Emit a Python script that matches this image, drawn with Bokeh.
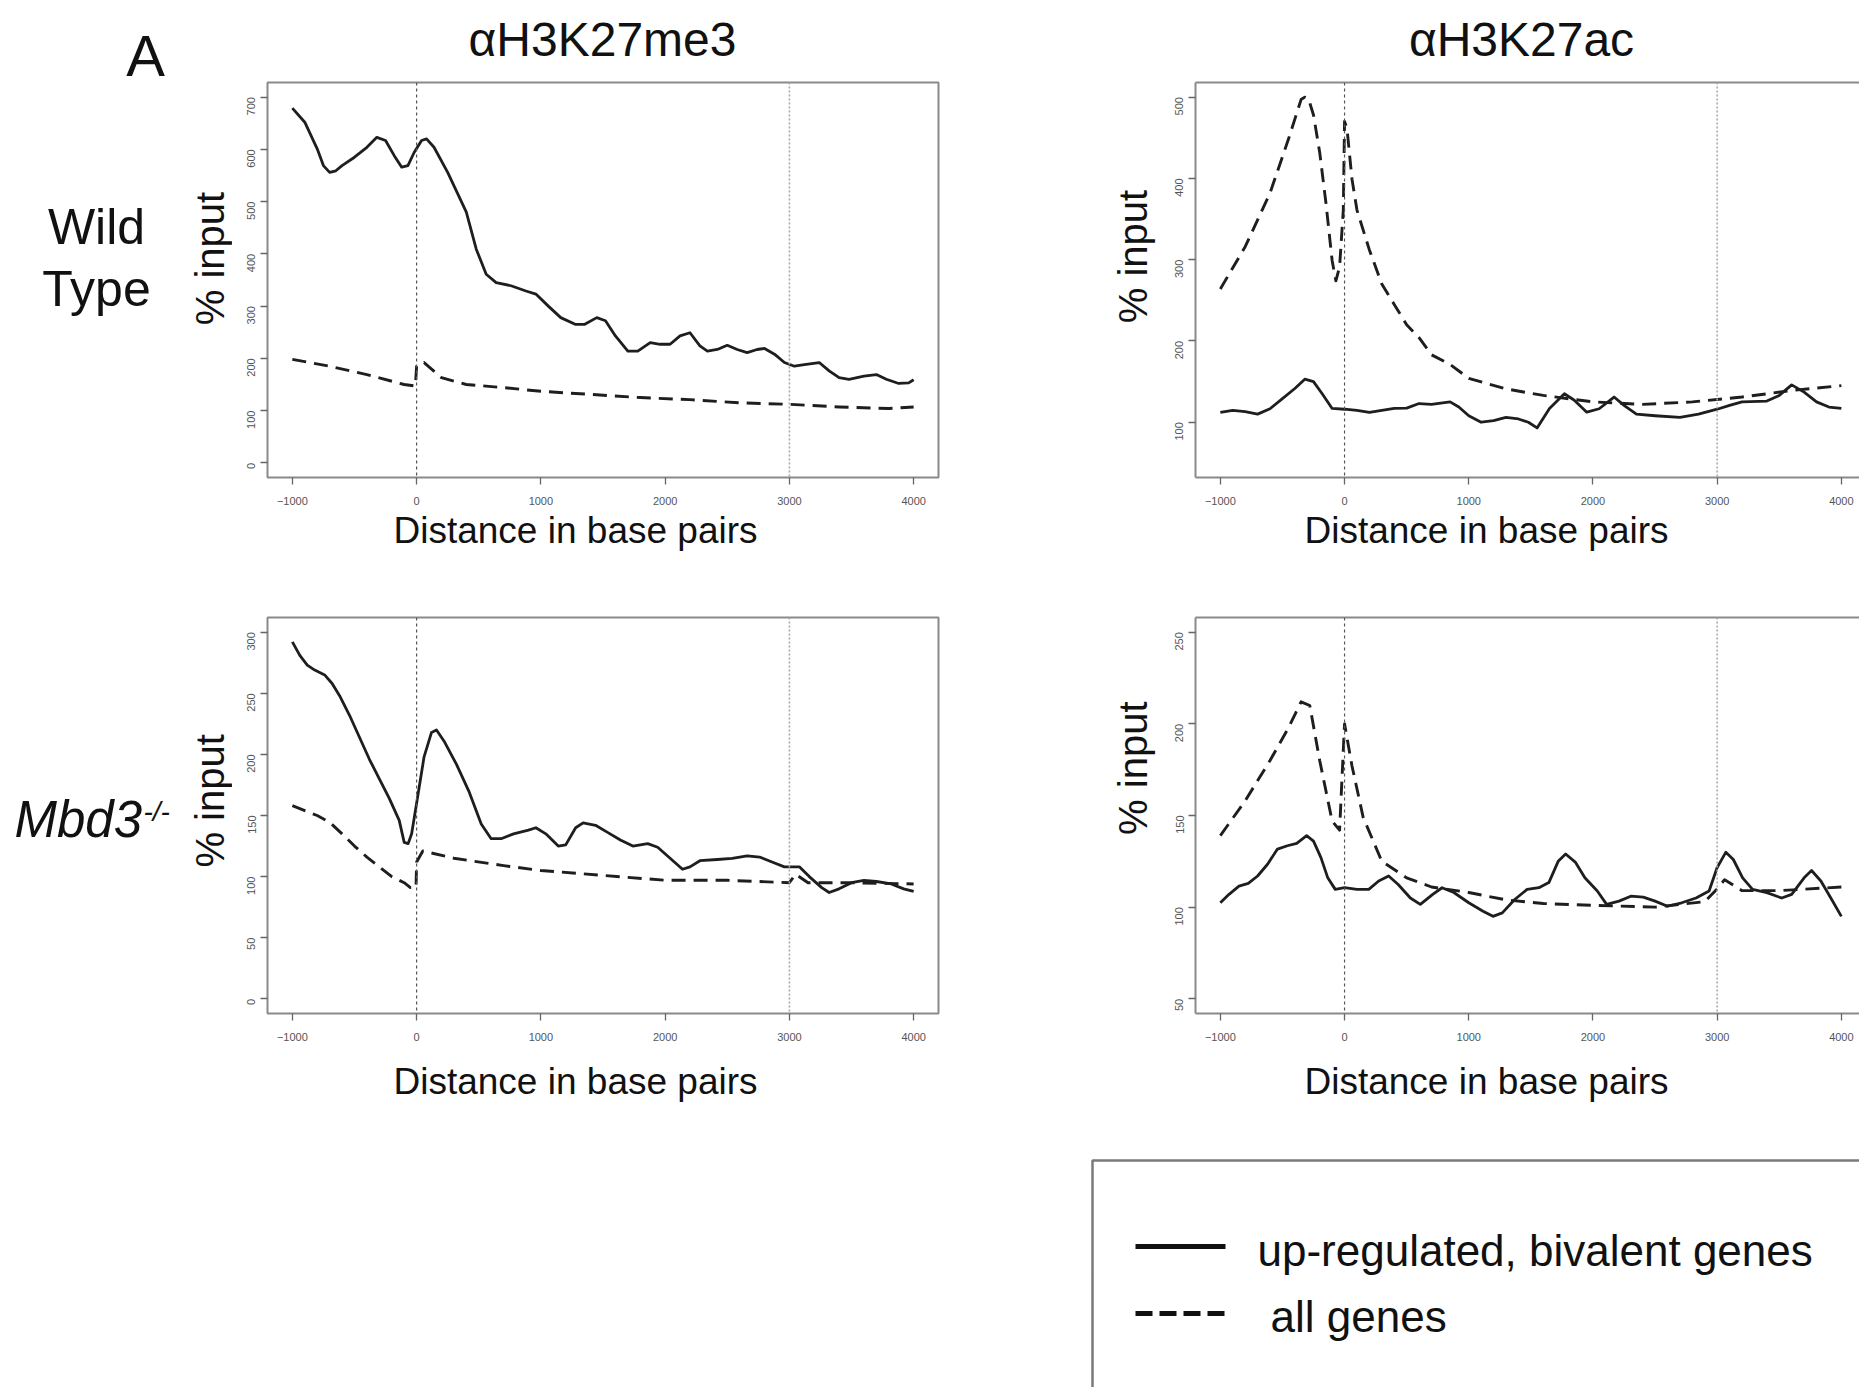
import math
from bokeh.plotting import figure
from bokeh.models import Range1d, FixedTicker, Span, Label, LinearAxis
from bokeh.layouts import column, row
from bokeh.embed import file_html
from bokeh.resources import INLINE

FONT = "Liberation Sans"

# ---------------- data ----------------
x_ticks = [-1000, 0, 1000, 2000, 3000, 4000]

# Wild type, H3K27me3
wt_me3_up_x = [-1000, -900, -800, -750, -700, -650, -600, -500, -400, -320, -250, -180, -120, -70, -20, 40, 80, 140,
               250, 400, 480, 560, 640, 760, 880, 960, 1060, 1160, 1280, 1350, 1450, 1520, 1600, 1700, 1780,
               1880, 1960, 2040, 2120, 2200, 2280, 2340, 2420, 2500, 2580, 2660, 2740, 2800, 2880, 2960,
               3040, 3120, 3240, 3320, 3400, 3480, 3600, 3700, 3780, 3880, 3960, 4000]
wt_me3_up_y = [679, 652, 601, 569, 556, 559, 569, 585, 604, 623, 617, 588, 566, 569, 594, 617, 620, 604,
               556, 480, 409, 361, 345, 339, 329, 323, 300, 278, 265, 265, 278, 272, 243, 214, 214,
               230, 227, 227, 243, 249, 224, 214, 217, 225, 217, 211, 217, 219, 208, 192,
               185, 188, 192, 176, 163, 160, 166, 169, 160, 152, 153, 159]
wt_me3_all_x = [-1000, -700, -400, -100, -10, 0, 60, 200, 400, 700, 1000, 1400, 1800, 2200, 2600, 3000, 3400, 3800, 4000]
wt_me3_all_y = [198, 185, 169, 150, 147, 185, 192, 163, 150, 144, 137, 131, 125, 121, 115, 112, 107, 104, 107]

# Wild type, H3K27ac
wt_ac_up_x = [-1000, -900, -800, -700, -600, -500, -400, -320, -250, -180, -100, 0, 100, 200, 300, 400, 500, 600,
              700, 850, 920, 1000, 1100, 1200, 1300, 1400, 1480, 1550, 1650, 1770, 1850, 1950, 2050, 2170, 2250,
              2350, 2500, 2700, 2850, 3000, 3100, 3200, 3400, 3500, 3600, 3700, 3800, 3900, 4000]
wt_ac_up_y = [112, 114.5, 113, 110, 116.6, 129, 141.5, 153, 150, 135, 117, 116, 114.5, 112, 114.5, 117, 117.4, 123,
              122, 125, 118.7, 108, 100, 102, 106, 104, 100, 93, 117, 135, 127, 112.4, 116.6, 131, 120.7,
              110, 108, 106, 110, 116, 120.7, 125, 126, 133, 146, 137, 125, 118.7, 117]
wt_ac_all_x = [-1000, -800, -600, -450, -400, -350, -320, -290, -250, -200, -150, -100, -70, -40, -10, 0, 20, 60,
               100, 200, 300, 400, 500, 600, 700, 850, 1000, 1300, 1600, 2000, 2400, 2800, 3200, 3600, 4000]
wt_ac_all_y = [264, 316, 382, 449, 473, 497, 500, 498, 478, 432, 370, 299, 274, 291, 361, 470, 461, 399,
               361, 312, 270, 245, 220, 204, 183, 171, 154, 141, 133, 125, 122, 125, 131, 139, 145]

# Mbd3-/-, H3K27me3
ko_me3_up_x = [-1000, -940, -880, -820, -740, -680, -620, -540, -460, -380, -300, -220, -140, -100, -68, -40, 0, 60,
               120, 160, 220, 320, 420, 520, 600, 680, 780, 900, 960, 1040, 1140, 1200, 1280, 1340, 1440, 1540,
               1640, 1740, 1860, 1940, 2040, 2140, 2200, 2280, 2420, 2540, 2660, 2760, 2860, 2960, 3080, 3160,
               3260, 3320, 3400, 3500, 3600, 3700, 3820, 3920, 4000]
ko_me3_up_y = [292, 281, 273, 269, 265, 258, 248, 232, 214, 196, 180, 164, 146, 128, 127, 135, 160, 198,
               218, 220, 211, 192, 170, 143, 131, 131, 135, 138, 140, 135, 125, 126, 140, 144, 142, 136,
               130, 125, 127, 124, 115, 106, 108, 113, 114, 115, 117, 116, 112, 108, 108, 100,
               91, 87, 90, 95, 97, 96, 94, 90, 88]
ko_me3_all_x = [-1000, -900, -800, -700, -600, -500, -400, -300, -200, -100, -50, -5, 0, 50, 300, 700, 1000, 1500,
                2000, 2500, 3000, 3050, 3150, 3500, 4000]
ko_me3_all_y = [158, 154, 150, 144.5, 135, 125, 116, 108, 100, 95, 91, 91, 112, 121, 115, 109, 105, 101,
                97, 97, 95, 102, 95, 95, 94]

# Mbd3-/-, H3K27ac
ko_ac_up_x = [-1000, -930, -850, -775, -700, -620, -540, -460, -385, -305, -250, -190, -135, -75, 0, 100, 195, 275,
              355, 430, 530, 610, 710, 785, 880, 1000, 1115, 1195, 1270, 1370, 1470, 1565, 1645, 1720, 1780,
              1860, 1935, 2035, 2110, 2210, 2305, 2405, 2500, 2600, 2715, 2830, 2935, 3000, 3070, 3130, 3205,
              3285, 3400, 3520, 3600, 3700, 3760, 3835, 3915, 4000]
ko_ac_up_y = [102.4, 107, 111.5, 113, 117, 123.4, 131.7, 133.5, 134.8, 139, 136, 127, 116, 109.7, 110.6, 109.7,
              109.7, 114.3, 117, 112.5, 105, 101.5, 107, 110.6, 108, 102.4, 97.8, 95, 96.9, 104.2, 109.7, 110.6,
              113.4, 125, 129, 124.4, 116, 108.8, 101.5, 103.3, 106, 105.5, 103.3, 100.5, 102.4, 105, 108.8,
              121.6, 130, 126, 116, 109.7, 107.9, 105, 107, 116, 120, 114.3, 105, 95]
ko_ac_all_x = [-1000, -800, -600, -450, -350, -280, -200, -100, -40, 0, 60, 150, 300, 500, 700, 1000, 1300, 1600,
               2000, 2500, 2900, 3000, 3060, 3200, 3500, 4000]
ko_ac_all_y = [139, 158, 180, 198, 212, 210, 180, 147, 142, 200, 177, 149, 125, 116, 111, 108, 104, 102,
               101, 100, 103, 110, 115, 109, 109, 111]

yticks_wt_me3 = [0, 100, 200, 300, 400, 500, 600, 700]
yticks_wt_ac = [100, 200, 300, 400, 500]
yticks_ko_me3 = [0, 50, 100, 150, 200, 250, 300]
yticks_ko_ac = [50, 100, 150, 200, 250]

col_titles = ["\u03b1H3K27me3", "\u03b1H3K27ac"]
legend_labels = ["up-regulated, bivalent genes", "all genes"]
y_label = "% input"
x_label = "Distance in base pairs"

FRAME_COLOR = "#8a8a8a"
LINE_COLOR = "#1e1e1e"


def panel(fw, fh, xr, yr, borders, yticks, up, allg, open_right=False):
    bl, br, bt, bb = borders
    p = figure(width=fw, height=fh, x_range=Range1d(*xr), y_range=Range1d(*yr),
               output_backend="svg", toolbar_location=None,
               min_border_left=bl, min_border_right=br, min_border_top=bt, min_border_bottom=bb)
    p.grid.visible = False
    p.background_fill_color = "white"
    p.border_fill_color = "white"
    xa = p.below[0]
    ya = p.left[0]
    for ax in (xa, ya):
        ax.axis_line_color = FRAME_COLOR if open_right else None
        ax.axis_line_width = 2
        ax.major_tick_line_color = "#666666"
        ax.major_tick_line_width = 1.3
        ax.major_tick_in = 0
        ax.major_tick_out = 7
        ax.minor_tick_line_color = None
        ax.major_label_text_font = FONT
        ax.major_label_text_font_size = "11px"
        ax.major_label_text_color = "#555555"
    xa.ticker = FixedTicker(ticks=x_ticks)
    xa.major_label_standoff = 12
    ya.ticker = FixedTicker(ticks=yticks)
    ya.major_label_orientation = math.pi / 2
    ya.major_label_standoff = 9
    if open_right:
        p.outline_line_color = None
        top = LinearAxis(ticker=FixedTicker(ticks=[]), axis_line_color=FRAME_COLOR, axis_line_width=2,
                         major_tick_line_color=None, minor_tick_line_color=None,
                         major_tick_out=0, major_tick_in=0, minor_tick_out=0, minor_tick_in=0,
                         major_label_standoff=0, major_label_text_font_size="1px")
        p.add_layout(top, "above")
    else:
        p.outline_line_color = FRAME_COLOR
        p.outline_line_width = 2

    p.add_layout(Span(location=0, dimension="height", line_color="#555555",
                      line_dash="3 3", line_width=1.2))
    p.add_layout(Span(location=3000, dimension="height", line_color="#aaaaaa",
                      line_dash="2 2", line_width=1.6))

    p.line(allg[0], allg[1], line_color=LINE_COLOR, line_width=2.9, line_dash="14 8", line_join="round")
    p.line(up[0], up[1], line_color=LINE_COLOR, line_width=2.8, line_join="round")
    return p


def text_fig(X0, Y0, w, h):
    """Plain strip whose data units are page pixels (y downward)."""
    p = figure(width=w, height=h, x_range=Range1d(X0, X0 + w), y_range=Range1d(Y0 + h, Y0),
               output_backend="svg", toolbar_location=None,
               min_border_left=0, min_border_right=0, min_border_top=0, min_border_bottom=0,
               x_axis_type=None, y_axis_type=None)
    p.grid.visible = False
    p.outline_line_color = None
    p.background_fill_color = "white"
    p.border_fill_color = "white"
    return p


def txt(p, x, y, text, size, align="center", baseline="middle", angle=0.0, style="normal"):
    p.add_layout(Label(x=x, y=y, text=text, text_font=FONT, text_font_size=f"{size}px",
                       text_align=align, text_baseline=baseline, angle=angle,
                       text_font_style=style, text_color="#111111"))


# ---------------- top block (header + wild type row) ----------------
lab1 = text_fig(0, 0, 232, 507)
txt(lab1, 145, 55, "A", 58)
txt(lab1, 96, 226, "Wild", 50)
txt(lab1, 96, 288, "Type", 50)
txt(lab1, 209, 258, y_label, 40, angle=math.pi / 2)

hdr = text_fig(232, 0, 1627, 78)
txt(hdr, 602, 39, col_titles[0], 48)
txt(hdr, 1521, 39, col_titles[1], 48)

p_tl = panel(868, 429, (-1200, 4200), (-28, 728), (35, 162, 4, 30), yticks_wt_me3,
             (wt_me3_up_x, wt_me3_up_y), (wt_me3_all_x, wt_me3_all_y))
mid1 = text_fig(1100, 78, 60, 429)
txt(mid1, 1132, 267, y_label, 40, angle=math.pi / 2)
p_tr = panel(699, 429, (-1200, 4146), (32, 518), (35, 0, 4, 30), yticks_wt_ac,
             (wt_ac_up_x, wt_ac_up_y), (wt_ac_all_x, wt_ac_all_y), open_right=True)

xl1 = text_fig(0, 507, 1859, 63)
txt(xl1, 575, 530, x_label, 37)
txt(xl1, 1486, 530, x_label, 37)

# ---------------- Mbd3-/- row ----------------
lab2 = text_fig(0, 570, 232, 473)
txt(lab2, 14, 811, "Mbd3", 51, align="left", style="italic")
txt(lab2, 143, 802, "-/-", 28, align="left", style="italic")
txt(lab2, 209, 789, y_label, 40, angle=math.pi / 2)

p_bl = panel(868, 473, (-1200, 4200), (-12, 312), (35, 162, 47, 30), yticks_ko_me3,
             (ko_me3_up_x, ko_me3_up_y), (ko_me3_all_x, ko_me3_all_y))
mid2 = text_fig(1100, 570, 60, 473)
txt(mid2, 1132, 750, y_label, 40, angle=math.pi / 2)
p_br = panel(699, 473, (-1200, 4146), (42, 258), (35, 0, 47, 30), yticks_ko_ac,
             (ko_ac_up_x, ko_ac_up_y), (ko_ac_all_x, ko_ac_all_y), open_right=True)

xl2 = text_fig(0, 1043, 1859, 87)
txt(xl2, 575, 1081, x_label, 37)
txt(xl2, 1486, 1081, x_label, 37)

# ---------------- legend ----------------
leg = text_fig(0, 1130, 1859, 257)
leg.line([1092, 1092, 1880], [1400, 1160, 1160], line_color="#7a7a7a", line_width=2.5)
leg.line([1135, 1225], [1246, 1246], line_color="#111111", line_width=5)
leg.line([1135, 1228], [1313, 1313], line_color="#111111", line_width=5, line_dash="17 7")
txt(leg, 1257, 1250, legend_labels[0], 44, align="left")
txt(leg, 1270, 1316, legend_labels[1], 44, align="left")

layout = column(
    row(lab1, column(hdr, row(p_tl, mid1, p_tr))),
    xl1,
    row(lab2, p_bl, mid2, p_br),
    xl2,
    leg,
)

open("out.html", "w").write(file_html(layout, INLINE))
